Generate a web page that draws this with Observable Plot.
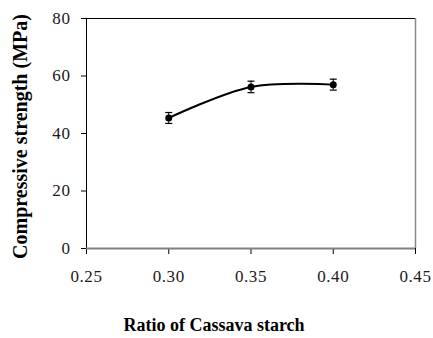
<!DOCTYPE html>
<html>
<head>
<meta charset="utf-8">
<script src="https://cdn.jsdelivr.net/npm/d3@7"></script>
<script src="https://cdn.jsdelivr.net/npm/@observablehq/plot@0.6"></script>
<style>
  html, body { margin: 0; padding: 0; background: #fff; }
  svg { display: block; }
  svg, svg text { font-family: 'Liberation Serif', 'Times New Roman', serif !important; }
  .tick-lbl text { letter-spacing: 0.6px; }
</style>
</head>
<body>
<div id="chart"></div>
<script>
const ratios = [0.30, 0.35, 0.40];
const strength = [45.4, 56.2, 57.0];
const errors = [1.9, 2.0, 1.9];
const xTicks = [0.25, 0.30, 0.35, 0.40, 0.45];
const yTicks = [0, 20, 40, 60, 80];
const xLabel = "Ratio of Cassava starch";
const yLabel = "Compressive strength (MPa)";

const data = ratios.map((r, i) => ({x: r, y: strength[i], lo: strength[i] - errors[i], hi: strength[i] + errors[i]}));

const capSymbol = {
  draw(context, size) {
    const r = 3.5;
    context.moveTo(-r, 0);
    context.lineTo(r, 0);
  }
};

const serif = "Liberation Serif";

const chart = Plot.plot({
  width: 433,
  height: 338,
  marginLeft: 86,
  marginRight: 18,
  marginTop: 18,
  marginBottom: 90,
  style: {fontFamily: serif, background: "#fff"},
  x: {domain: [0.25, 0.45]},
  y: {domain: [0, 80]},
  marks: [
    Plot.ruleY([80], {stroke: "#000", strokeWidth: 1}),
    Plot.ruleX([0.45], {stroke: "#888", strokeWidth: 1.5}),
    Plot.ruleX([0.25], {stroke: "#000", strokeWidth: 1}),
    Plot.axisX({ticks: xTicks, tickFormat: d3.format(".2f"), tickSize: 6, tickPadding: 15, fontSize: 17, fontFamily: serif, fill: "#1a1a1a", stroke: "#000", label: null, className: "tick-lbl"}),
    Plot.axisY({ticks: yTicks, tickSize: 5, tickPadding: 11, fontSize: 17, fontFamily: serif, fill: "#1a1a1a", stroke: "#000", label: null, className: "tick-lbl"}),
    Plot.ruleY([0], {stroke: "#808080", strokeWidth: 2}),
    Plot.line(data, {x: "x", y: "y", curve: "catmull-rom", stroke: "#000", strokeWidth: 2}),
    Plot.ruleX(data, {x: "x", y1: "lo", y2: "hi", stroke: "#000", strokeWidth: 1}),
    Plot.dot(data, {x: "x", y: "lo", symbol: capSymbol, stroke: "#000", strokeWidth: 1.2}),
    Plot.dot(data, {x: "x", y: "hi", symbol: capSymbol, stroke: "#000", strokeWidth: 1.2}),
    Plot.dot(data, {x: "x", y: "y", r: 3.5, fill: "#000", stroke: "none"}),
    Plot.text([xLabel], {text: d => d, frameAnchor: "bottom", dx: -37, dy: 82, fontSize: 18, fontWeight: "bold", fill: "#000"}),
    Plot.text([yLabel], {text: d => d, frameAnchor: "left", textAnchor: "middle", rotate: -90, dx: -66, dy: 3, fontSize: 20, fontWeight: "bold", fill: "#000"})
  ]
});
document.getElementById("chart").appendChild(chart);
</script>
</body>
</html>
